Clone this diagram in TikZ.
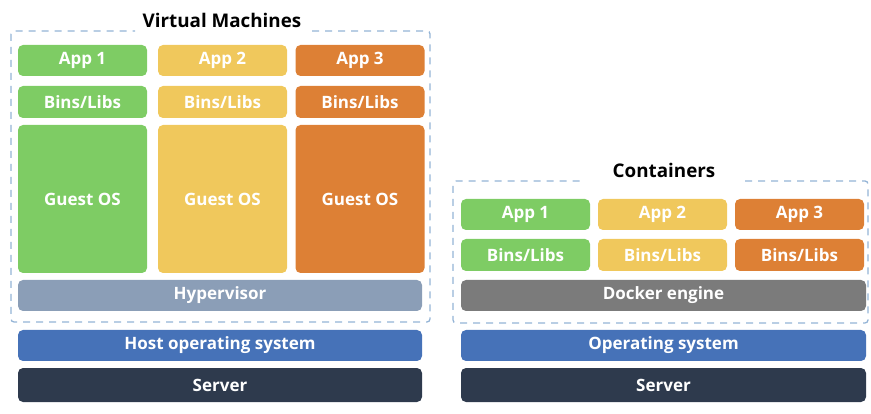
\documentclass[tikz,border=0pt]{standalone}
\usepackage{fontspec}
\setmainfont{Open Sans}
\definecolor{cgreen}{HTML}{7ECC64}
\definecolor{cyellow}{HTML}{F0C85C}
\definecolor{corange}{HTML}{DD8035}
\definecolor{chyper}{HTML}{8B9EB7}
\definecolor{chost}{HTML}{4672B8}
\definecolor{cserver}{HTML}{2E3A4D}
\definecolor{cdocker}{HTML}{7B7B7B}
\definecolor{cdash}{HTML}{94B4D6}
\tikzset{
  blk/.style={rounded corners=5pt, inner sep=0pt, text=white, font=\fontsize{17}{19}\selectfont\bfseries, draw=none},
  wbox/.style={blk, minimum width=129pt, minimum height=31pt},
  wide/.style={blk, minimum width=404pt, minimum height=31pt},
  ttl/.style={font=\fontsize{18.8}{21}\selectfont\bfseries, text=black, inner sep=0pt},
  dsh/.style={draw=cdash, line width=1.3pt, dash pattern=on 7pt off 6pt, rounded corners=3pt},
}
\begin{document}
\begin{tikzpicture}[x=1pt,y=-1pt]
\useasboundingbox (0,0) rectangle (871,414);
% ---- left: virtual machines
\node[ttl] (vmt) at (222,20) {Virtual Machines};
\coordinate (vl1) at (135,31);
\coordinate (vl2) at (312,31);
\draw[dsh] (vl2) -- (430,31) -- (430,322) -- (11,322) -- (11,31) -- (vl1);
\node[wbox, fill=cgreen] (a1) at (82.5,60.5) {App 1};
\node[wbox, fill=cyellow] (a2) at (222.5,60.5) {App 2};
\node[wbox, fill=corange] (a3) at (360,60.5) {App 3};
\node[wbox, fill=cgreen, minimum height=32pt] (b1) at (82.5,102) {Bins/Libs};
\node[wbox, fill=cyellow, minimum height=32pt] (b2) at (222.5,102) {Bins/Libs};
\node[wbox, fill=corange, minimum height=32pt] (b3) at (360,102) {Bins/Libs};
\node[wbox, fill=cgreen, minimum height=148pt] (g1) at (82.5,199) {Guest OS};
\node[wbox, fill=cyellow, minimum height=148pt] (g2) at (222.5,199) {Guest OS};
\node[wbox, fill=corange, minimum height=148pt] (g3) at (360,199) {Guest OS};
\node[wide, fill=chyper] (hyp) at (220,295.5) {Hypervisor};
\node[wide, fill=chost] (host) at (220,345.5) {Host operating system};
\node[wide, fill=cserver, minimum height=34pt] (srv1) at (220,385) {Server};
% ---- right: containers
\node[ttl] (ct) at (664,170) {Containers};
\coordinate (cl1) at (583,181);
\coordinate (cl2) at (745,181);
\draw[dsh] (cl2) -- (868,181) -- (868,323) -- (453,323) -- (453,181) -- (cl1);
\node[wbox, fill=cgreen] (c1) at (525.5,214.5) {App 1};
\node[wbox, fill=cyellow] (c2) at (662.5,214.5) {App 2};
\node[wbox, fill=corange] (c3) at (799.5,214.5) {App 3};
\node[wbox, fill=cgreen, minimum height=32pt] (d1) at (525.5,255) {Bins/Libs};
\node[wbox, fill=cyellow, minimum height=32pt] (d2) at (662.5,255) {Bins/Libs};
\node[wbox, fill=corange, minimum height=32pt] (d3) at (799.5,255) {Bins/Libs};
\node[wide, fill=cdocker, minimum width=405pt] (dock) at (663.5,295.5) {Docker engine};
\node[wide, fill=chost, minimum width=405pt] (os) at (663.5,345.5) {Operating system};
\node[wide, fill=cserver, minimum width=405pt, minimum height=34pt] (srv2) at (663.5,385) {Server};
\end{tikzpicture}
\end{document}
